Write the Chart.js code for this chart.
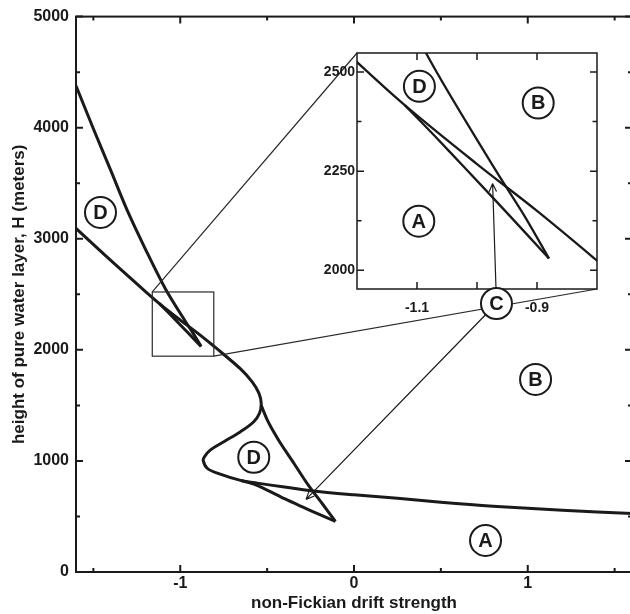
<!DOCTYPE html>
<html><head><meta charset="utf-8">
<script src="https://cdn.jsdelivr.net/npm/chart.js@4.4.1/dist/chart.umd.min.js"></script>
<style>
html,body{margin:0;padding:0;overflow:hidden;background:#fff;width:630px;height:614px;}
#main{position:absolute;left:0;top:0;width:640px;height:614px;}
#inset{position:absolute;left:290px;top:30px;width:320px;height:300px;}
canvas{display:block;}
</style></head><body>
<div id="main"><canvas id="c1" width="640" height="614"></canvas></div>
<div id="inset"><canvas id="c2" width="320" height="300"></canvas></div>
<script>
// ---------- data ----------
const curve1DownX = [-1.6, -1.5, -1.4, -1.305, -1.2, -1.085, -0.97, -0.92, -0.88];
const curve1DownY = [4378, 3990, 3615, 3255, 2905, 2548, 2255, 2135, 2030];
const curve1ReturnX = [-0.88, -0.95, -1.02, -1.07, -1.12];
const curve1ReturnY = [2030, 2145, 2258, 2338, 2416];
const curve2X = [-1.6, -1.4, -1.2, -1.12, -1.0, -0.9, -0.805, -0.749, -0.653, -0.586, -0.548, -0.534, -0.544, -0.577, -0.653, -0.749, -0.826, -0.860, -0.868, -0.845, -0.787, -0.653, -0.557, -0.4, -0.25, 0, 0.25, 0.5, 0.8, 1.2, 1.6];
const curve2Y = [3093, 2805, 2525, 2416, 2268, 2150, 2031, 1958, 1828, 1712, 1612, 1518, 1429, 1353, 1263, 1173, 1099, 1039, 1005, 934, 890, 825, 800, 765, 732, 695, 664, 628, 592, 556, 527];
const diagonalX = [-0.534, -0.50, -0.46, -0.423, -0.346, -0.26, -0.18, -0.107];
const diagonalY = [1500, 1372, 1255, 1159, 979, 775, 610, 455];
const lowerBranchX = [-0.107, -0.2, -0.3, -0.4, -0.5, -0.58, -0.65];
const lowerBranchY = [455, 518, 588, 660, 738, 793, 824];

const mainXTicks = [-1.5, -1, -0.5, 0, 0.5, 1, 1.5];
const mainXLabels = [-1, 0, 1];
const mainYTicks = [0, 500, 1000, 1500, 2000, 2500, 3000, 3500, 4000, 4500, 5000];
const mainYLabels = [0, 1000, 2000, 3000, 4000, 5000];
const insetXTicks = [-1.1, -1.0, -0.9];
const insetXLabels = [-1.1, -0.9];
const insetYTicks = [2000, 2125, 2250, 2375, 2500];
const insetYLabels = [2000, 2250, 2500];

const mainRegionText = ['D', 'D', 'B', 'A'];
const mainRegionX = [-1.459, -0.577, 1.045, 0.757];
const mainRegionY = [3237, 1033, 1734, 284];
const insetRegionText = ['D', 'B', 'A'];
const insetRegionX = [-1.096, -0.898, -1.097];
const insetRegionY = [2464, 2422, 2124];
const cLabelText = 'C';
const cLabelXY = [0.82, 2417];
const zoomBoxX = [-1.161, -0.807];
const zoomBoxY = [1943, 2521];
const insetRangeX = [-1.2, -0.8];
const insetRangeY = [1953, 2548];
const mainArrowTip = [-0.276, 654];
const insetArrowTip = [-0.974, 2219];

// ---------- drawing ----------
const INK = '#1a1a1a';
const FONT = "'Liberation Sans', Arial, Helvetica, sans-serif";
const INSET_LEFT = 290, INSET_TOP = 30;
Chart.defaults.font.family = FONT;
Chart.defaults.color = INK;

const pts = (xs, ys) => xs.map((x, i) => ({x: x, y: ys[i]}));
const near = (a, b) => Math.abs(a - b) < 1e-6;
const inList = (v, list) => list.some(l => near(l, v));
function lineDs(xs, ys, w, t) {
  return {data: pts(xs, ys), showLine: true, borderColor: INK, borderWidth: w,
    pointRadius: 0, tension: t, fill: false, borderCapStyle: 'butt', borderJoinStyle: 'round'};
}
function drawTicks(ctx, chart, xT, xM, yT, yM, maj, mnr, lw) {
  const {left, right, top, bottom} = chart.chartArea;
  const sx = chart.scales.x, sy = chart.scales.y;
  ctx.save(); ctx.strokeStyle = INK; ctx.lineWidth = lw; ctx.beginPath();
  xT.forEach(v => { const p = sx.getPixelForValue(v); const L = inList(v, xM) ? maj : mnr;
    ctx.moveTo(p, bottom); ctx.lineTo(p, bottom - L); ctx.moveTo(p, top); ctx.lineTo(p, top + L); });
  yT.forEach(v => { const p = sy.getPixelForValue(v); const L = inList(v, yM) ? maj : mnr;
    ctx.moveTo(left, p); ctx.lineTo(left + L, p); ctx.moveTo(right, p); ctx.lineTo(right - L, p); });
  ctx.stroke();
  ctx.lineWidth = lw; ctx.strokeRect(left, top, right - left, bottom - top);
  ctx.restore();
}
function circleLabel(ctx, x, y, txt) {
  ctx.save();
  ctx.beginPath(); ctx.arc(x, y, 15.5, 0, 2 * Math.PI);
  ctx.fillStyle = '#fff'; ctx.fill();
  ctx.lineWidth = 2; ctx.strokeStyle = INK; ctx.stroke();
  ctx.fillStyle = INK; ctx.font = 'bold 20px ' + FONT;
  ctx.textAlign = 'center'; ctx.textBaseline = 'middle';
  ctx.fillText(txt, x, y + 1);
  ctx.restore();
}
function arrow(ctx, x0, y0, x1, y1) {
  ctx.save(); ctx.strokeStyle = INK; ctx.lineWidth = 1.2;
  ctx.beginPath(); ctx.moveTo(x0, y0); ctx.lineTo(x1, y1);
  const ang = Math.atan2(y1 - y0, x1 - x0);
  [-1, 1].forEach(s => { const a = ang + Math.PI + s * 0.42;
    ctx.moveTo(x1, y1); ctx.lineTo(x1 + 9 * Math.cos(a), y1 + 9 * Math.sin(a)); });
  ctx.stroke(); ctx.restore();
}

let mainChart = null, insetChart = null;

const mainDecor = {
  id: 'mainDecor',
  afterDraw(chart) {
    const ctx = chart.ctx, sx = chart.scales.x, sy = chart.scales.y;
    drawTicks(ctx, chart, mainXTicks, mainXLabels, mainYTicks, mainYLabels, 7, 4, 2);
    const bx0 = sx.getPixelForValue(zoomBoxX[0]), bx1 = sx.getPixelForValue(zoomBoxX[1]);
    const by0 = sy.getPixelForValue(zoomBoxY[1]), by1 = sy.getPixelForValue(zoomBoxY[0]);
    ctx.save(); ctx.strokeStyle = '#2a2a2a'; ctx.lineWidth = 1.2;
    ctx.strokeRect(bx0, by0, bx1 - bx0, by1 - by0);
    if (insetChart) {
      const ca = insetChart.chartArea;
      ctx.beginPath();
      ctx.moveTo(bx0, by0); ctx.lineTo(INSET_LEFT + ca.left, INSET_TOP + ca.top);
      ctx.moveTo(bx1, by1); ctx.lineTo(INSET_LEFT + ca.right, INSET_TOP + ca.bottom);
      ctx.stroke();
    }
    ctx.restore();
    const cx = sx.getPixelForValue(cLabelXY[0]), cy = sy.getPixelForValue(cLabelXY[1]);
    const tx = sx.getPixelForValue(mainArrowTip[0]), ty = sy.getPixelForValue(mainArrowTip[1]);
    const d = Math.hypot(tx - cx, ty - cy);
    arrow(ctx, cx + (tx - cx) * 15 / d, cy + (ty - cy) * 15 / d, tx, ty);
    mainRegionText.forEach((t, i) => circleLabel(ctx, sx.getPixelForValue(mainRegionX[i]), sy.getPixelForValue(mainRegionY[i]), t));
  }
};

const insetDecor = {
  id: 'insetDecor',
  beforeDraw(chart) {
    const {left, top, right, bottom} = chart.chartArea;
    chart.ctx.save(); chart.ctx.fillStyle = '#fff';
    chart.ctx.fillRect(left, top, right - left, bottom - top); chart.ctx.restore();
  },
  afterDraw(chart) {
    const ctx = chart.ctx, sx = chart.scales.x, sy = chart.scales.y;
    drawTicks(ctx, chart, insetXTicks, insetXTicks, insetYTicks, insetYLabels, 7, 4.5, 1.5);
    insetRegionText.forEach((t, i) => circleLabel(ctx, sx.getPixelForValue(insetRegionX[i]), sy.getPixelForValue(insetRegionY[i]), t));
    if (mainChart) {
      const cx = mainChart.scales.x.getPixelForValue(cLabelXY[0]) - INSET_LEFT;
      const cy = mainChart.scales.y.getPixelForValue(cLabelXY[1]) - INSET_TOP;
      const tx = sx.getPixelForValue(insetArrowTip[0]), ty = sy.getPixelForValue(insetArrowTip[1]);
      const d = Math.hypot(tx - cx, ty - cy);
      arrow(ctx, cx + (tx - cx) * 15 / d, cy + (ty - cy) * 15 / d, tx, ty);
      circleLabel(ctx, cx, cy, cLabelText);
    }
  }
};

const tickFont = {size: 16, weight: 'bold'};
mainChart = new Chart(document.getElementById('c1'), {
  type: 'scatter',
  data: {datasets: [
    lineDs(curve1DownX, curve1DownY, 3, 0.3),
    lineDs(curve1ReturnX, curve1ReturnY, 3, 0.3),
    lineDs(curve2X, curve2Y, 3, 0.35),
    lineDs(diagonalX, diagonalY, 3, 0.3),
    lineDs(lowerBranchX, lowerBranchY, 3, 0.3)
  ]},
  options: {
    responsive: false, animation: false, events: [],
    layout: {padding: {top: 16, right: 8, left: 0, bottom: 0}},
    plugins: {legend: {display: false}, tooltip: {enabled: false}},
    scales: {
      x: {type: 'linear', min: -1.6, max: 1.6,
        afterBuildTicks: s => { s.ticks = mainXTicks.map(v => ({value: v})); },
        afterFit: s => { s.height = 42; },
        grid: {display: false, drawTicks: false}, border: {display: false},
        ticks: {autoSkip: false, maxRotation: 0, padding: 2, font: tickFont, color: INK,
          callback: v => inList(v, mainXLabels) ? String(v) : ''},
        title: {display: true, text: 'non-Fickian drift strength', color: INK,
          font: {size: 17, weight: 'bold'}, padding: {top: 0, bottom: 0}}},
      y: {type: 'linear', min: 0, max: 5000,
        afterBuildTicks: s => { s.ticks = mainYTicks.map(v => ({value: v})); },
        afterFit: s => { s.width = 76; },
        grid: {display: false, drawTicks: false}, border: {display: false},
        ticks: {autoSkip: false, padding: 7, font: tickFont, color: INK,
          callback: v => inList(v, mainYLabels) ? String(v) : ''},
        title: {display: true, text: 'height of pure water layer, H (meters)', color: INK,
          font: {size: 17, weight: 'bold'}, padding: {top: 9, bottom: 0}}}
    }
  },
  plugins: [mainDecor]
});

const insetFont = {size: 14, weight: 'bold'};
insetChart = new Chart(document.getElementById('c2'), {
  type: 'scatter',
  data: {datasets: [
    lineDs(curve1DownX, curve1DownY, 2.3, 0.3),
    lineDs(curve1ReturnX, curve1ReturnY, 2.3, 0.3),
    lineDs(curve2X, curve2Y, 2.3, 0.35)
  ]},
  options: {
    responsive: false, animation: false, events: [],
    layout: {padding: {top: 23, right: 13, left: 0, bottom: 0}},
    plugins: {legend: {display: false}, tooltip: {enabled: false}},
    scales: {
      x: {type: 'linear', min: insetRangeX[0], max: insetRangeX[1],
        afterBuildTicks: s => { s.ticks = insetXTicks.map(v => ({value: v})); },
        afterFit: s => { s.height = 41; },
        grid: {display: false, drawTicks: false}, border: {display: false},
        ticks: {autoSkip: false, maxRotation: 0, padding: 11, font: insetFont, color: INK,
          callback: v => inList(v, insetXLabels) ? v.toFixed(1) : ''}},
      y: {type: 'linear', min: insetRangeY[0], max: insetRangeY[1],
        afterBuildTicks: s => { s.ticks = insetYTicks.map(v => ({value: v})); },
        afterFit: s => { s.width = 67; },
        grid: {display: false, drawTicks: false}, border: {display: false},
        ticks: {autoSkip: false, padding: 2, font: insetFont, color: INK,
          callback: v => inList(v, insetYLabels) ? String(v) : ''}}
    }
  },
  plugins: [insetDecor]
});
mainChart.draw();
</script>
</body></html>
